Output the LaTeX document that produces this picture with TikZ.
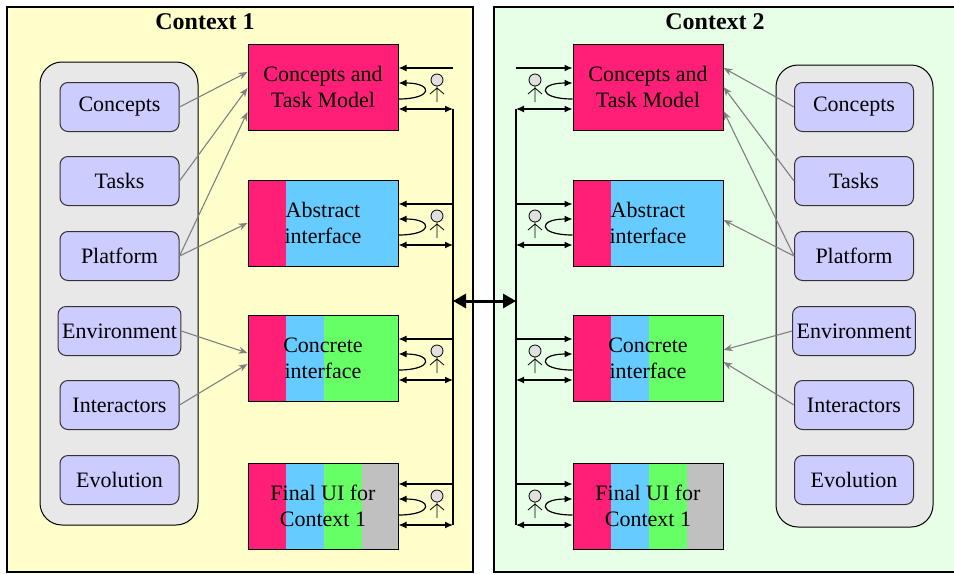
\documentclass[tikz,border=0pt]{standalone}
\usepackage{fontspec}
\setmainfont{Liberation Serif}
\usetikzlibrary{arrows.meta}

\definecolor{ctxone}{HTML}{FFFFCC}
\definecolor{ctxtwo}{HTML}{E6FFE6}
\definecolor{groupgrey}{HTML}{E8E8E8}
\definecolor{itemblue}{HTML}{CCCCFF}
\definecolor{modelpink}{HTML}{FF1F77}
\definecolor{absblue}{HTML}{66CCFF}
\definecolor{congreen}{HTML}{66FF66}
\definecolor{finalgrey}{HTML}{C0C0C0}
\definecolor{headgrey}{HTML}{E0E0E0}

\tikzset{
  item/.style={draw=black!80, fill=itemblue, rounded corners=8pt, line width=1pt,
    minimum width=119pt, minimum height=49pt, inner xsep=4pt, font=\fontsize{22}{26}\selectfont},
  mainbox/.style={draw, line width=1pt, minimum width=150pt, minimum height=86pt,
    align=center, font=\fontsize{22}{26}\selectfont},
  title/.style={font=\bfseries\fontsize{24}{28}\selectfont},
  feed/.style={draw=gray, line width=1.1pt, -{Stealth[length=9pt,width=7pt]}},
  blk/.style={line width=1.2pt, -{Latex[length=8pt,width=7pt]}},
  blkboth/.style={line width=1.2pt, {Latex[length=8pt,width=7pt]}-{Latex[length=8pt,width=7pt]}},
  hub/.style={line width=3pt, {Triangle[length=13pt,width=14pt]}-{Triangle[length=13pt,width=14pt]}},
  actor/.pic={
    \draw[fill=headgrey, line width=0.8pt] (0,0) circle (6pt);
    \draw[line width=0.8pt] (0,6) -- (0,22) (-7,14) -- (0,8) -- (7,14);
  }
}

\begin{document}
\begin{tikzpicture}[x=1pt,y=-1pt]
\useasboundingbox (0,0) rectangle (954,574);

% the two contexts
\filldraw[fill=ctxone, line width=1.2pt] (7,7) rectangle (473,572);
\filldraw[fill=ctxtwo, line width=1.2pt] (494,7) rectangle (962,572);
\node[title] (titleA) at (205,22) {Context 1};
\node[title] (titleB) at (715,22) {Context 2};

\filldraw[fill=groupgrey, rounded corners=22pt, line width=1pt] (40,62) rectangle (198,525);
\filldraw[fill=groupgrey, rounded corners=22pt, line width=1pt] (776,65) rectangle (933,527);

\foreach \n/\y/\lbl in {1/107/Concepts,2/181/Tasks,3/256/Platform,4/331/Environment,5/405/Interactors,6/480/Evolution} {
  \node[item] (cA\n) at (119.5,\y) {\lbl};
  \node[item] (cB\n) at (854,\y) {\lbl};
}

% colour bands of the models
\foreach \x in {248,573} {
  \fill[modelpink] (\x,44) rectangle ++(150,86);
  \fill[modelpink] (\x,180) rectangle ++(38,86);
  \fill[absblue] (\x+38,180) rectangle ++(112,86);
  \fill[modelpink] (\x,315) rectangle ++(38,86);
  \fill[absblue] (\x+38,315) rectangle ++(38,86);
  \fill[congreen] (\x+76,315) rectangle ++(74,86);
  \fill[modelpink] (\x,463) rectangle ++(38,86);
  \fill[absblue] (\x+38,463) rectangle ++(38,86);
  \fill[congreen] (\x+76,463) rectangle ++(38,86);
  \fill[finalgrey] (\x+114,463) rectangle ++(36,86);
}

\foreach \n/\t/\lbl in {1/44/{Concepts and\\Task Model},2/180/{Abstract\\interface},3/315/{Concrete\\interface},4/463/{Final UI for\\Context 1}} {
  \node[mainbox] (mainA\n) at (323,\t+43) {\lbl};
  \node[mainbox] (mainB\n) at (648,\t+43) {\lbl};
}

% user loops
\foreach \n/\a in {1/44,2/180,3/315,4/460} {
  \coordinate (inA\n) at (453,\a+24);
  \coordinate (ioA\n) at (453,\a+65);
  \coordinate (upA\n) at (453,\a+39);
  \coordinate (dnA\n) at (453,\a+55);
  \draw[blk] (inA\n) -- (mainA\n.east |- inA\n);
  \draw[blkboth] (ioA\n) -- (mainA\n.east |- ioA\n);
  \draw[blk] (mainA\n.east |- dnA\n) .. controls +(35,0) and +(35,0) .. (mainA\n.east |- upA\n);
  \pic at (437,\a+36) {actor};
  \coordinate (inB\n) at (516,\a+24);
  \coordinate (ioB\n) at (516,\a+65);
  \coordinate (upB\n) at (516,\a+39);
  \coordinate (dnB\n) at (516,\a+55);
  \draw[blk] (inB\n) -- (mainB\n.west |- inB\n);
  \draw[blkboth] (ioB\n) -- (mainB\n.west |- ioB\n);
  \draw[blk] (mainB\n.west |- dnB\n) .. controls +(-35,0) and +(-35,0) .. (mainB\n.west |- upB\n);
  \pic at (535,\a+36) {actor};
}
\draw[line width=1.2pt] (ioA1) -- (ioA4);
\draw[line width=1.2pt] (ioB1) -- (ioB4);

\coordinate (hubA) at (453,301);
\coordinate (hubB) at (516,301);
\draw[hub] (hubA) -- (hubB);

% what feeds the models
\draw[feed] (cA1.east) -- ([yshift=15pt]mainA1.west);
\draw[feed] (cA2.east) -- ([yshift=-1pt]mainA1.west);
\draw[feed] (cA3.east) -- ([yshift=-25pt]mainA1.west);
\draw[feed] (cA3.east) -- (mainA2.west);
\draw[feed] (cA4.east) -- ([yshift=5pt]mainA3.west);
\draw[feed] (cA5.east) -- ([yshift=-6pt]mainA3.west);
\draw[feed] (cB1.west) -- ([yshift=19pt]mainB1.east);
\draw[feed] (cB2.west) -- (mainB1.east);
\draw[feed] (cB3.west) -- ([yshift=-24pt]mainB1.east);
\draw[feed] (cB3.west) -- ([yshift=3pt]mainB2.east);
\draw[feed] (cB4.west) -- ([yshift=8pt]mainB3.east);
\draw[feed] (cB5.west) -- ([yshift=-4pt]mainB3.east);
\end{tikzpicture}
\end{document}
